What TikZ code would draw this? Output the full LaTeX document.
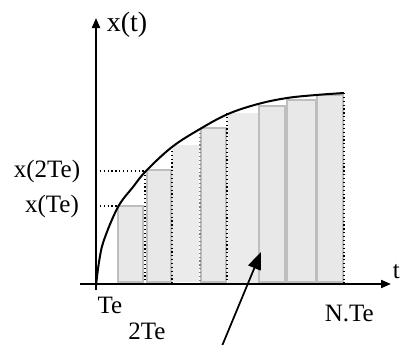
\documentclass[tikz,border=0pt]{standalone}
\usepackage{fontspec}
\setmainfont{Liberation Serif}
\usepackage{tikz}
\usetikzlibrary{arrows.meta}
\definecolor{barfill}{RGB}{232,232,232}
\definecolor{barlite}{RGB}{235,235,235}
\definecolor{baredge}{RGB}{190,190,190}

\begin{document}
\begin{tikzpicture}[
    x=0.75pt, y=-0.75pt,
    axis/.style={line width=1.5pt,-{Triangle[length=7.5pt,width=6pt]}},
    bar/.style={fill=barfill,draw=baredge,line width=1pt},
    plainbar/.style={fill=barlite},
    guide/.style={dotted,line width=0.9pt},
    lab/.style={font=\fontsize{18.75}{22}\selectfont,inner sep=0pt},
]
\useasboundingbox (0,0) rectangle (400,344);

% bars
\filldraw[bar] (118,282) rectangle (143,206);
\filldraw[bar] (147,282) rectangle (171,170);
\fill[plainbar] (172,282) rectangle (199,145);
\filldraw[bar] (201,282) rectangle (226,128);
\fill[plainbar] (228,284) rectangle (258,113);
\filldraw[bar] (259,282) rectangle (285,106);
\filldraw[bar] (287,282) rectangle (316,100);
\filldraw[bar] (317,282) rectangle (343,95);

% guides
\draw[guide] (96,206) -- (118,206);
\draw[guide] (96,171) -- (146,171);
\draw[guide] (145,171) -- (145,284);
\draw[guide] (172,147) -- (172,284);
\draw[guide,gray] (200,129) -- (200,284);
\draw[guide] (227,113) -- (227,284);
\draw[guide] (344,93) -- (344,284);

% curve
\draw[line width=1.5pt] plot[smooth,tension=0.6] coordinates {(96,286) (99,262) (104,240) (118,207) (133,187) (146,171) (172,147) (200,129) (228,114) (258,104) (287,98) (316,95) (344,93)};

% axes
\coordinate (xleft) at (80,284);
\coordinate (xright) at (391,284);
\coordinate (ybot) at (96,290);
\coordinate (ytop) at (96,18);
\draw[axis] (xleft) -- (xright);
\draw[axis] (ybot) -- (ytop);

% labels
\node[font=\fontsize{21}{25}\selectfont,inner sep=0pt] (xt) at (127,25) {x(t)};
\node[lab] (x2Te) at (47,171) {x(2Te)};
\node[lab] (xTe) at (52,206) {x(Te)};
\node[lab] (Te) at (110,305) {Te};
\node[lab] (twoTe) at (147,331) {2Te};
\node[lab,anchor=east] (NTe) at (374,313) {N.Te};
\node[lab,anchor=west] (tlab) at (392.5,272) {t};

% pointer
\coordinate (ptail) at (222,346);
\coordinate (phead) at (261,252);
\draw[line width=1.3pt,-{Triangle[length=13pt,width=10pt]}] (ptail) -- (phead);
\end{tikzpicture}
\end{document}
